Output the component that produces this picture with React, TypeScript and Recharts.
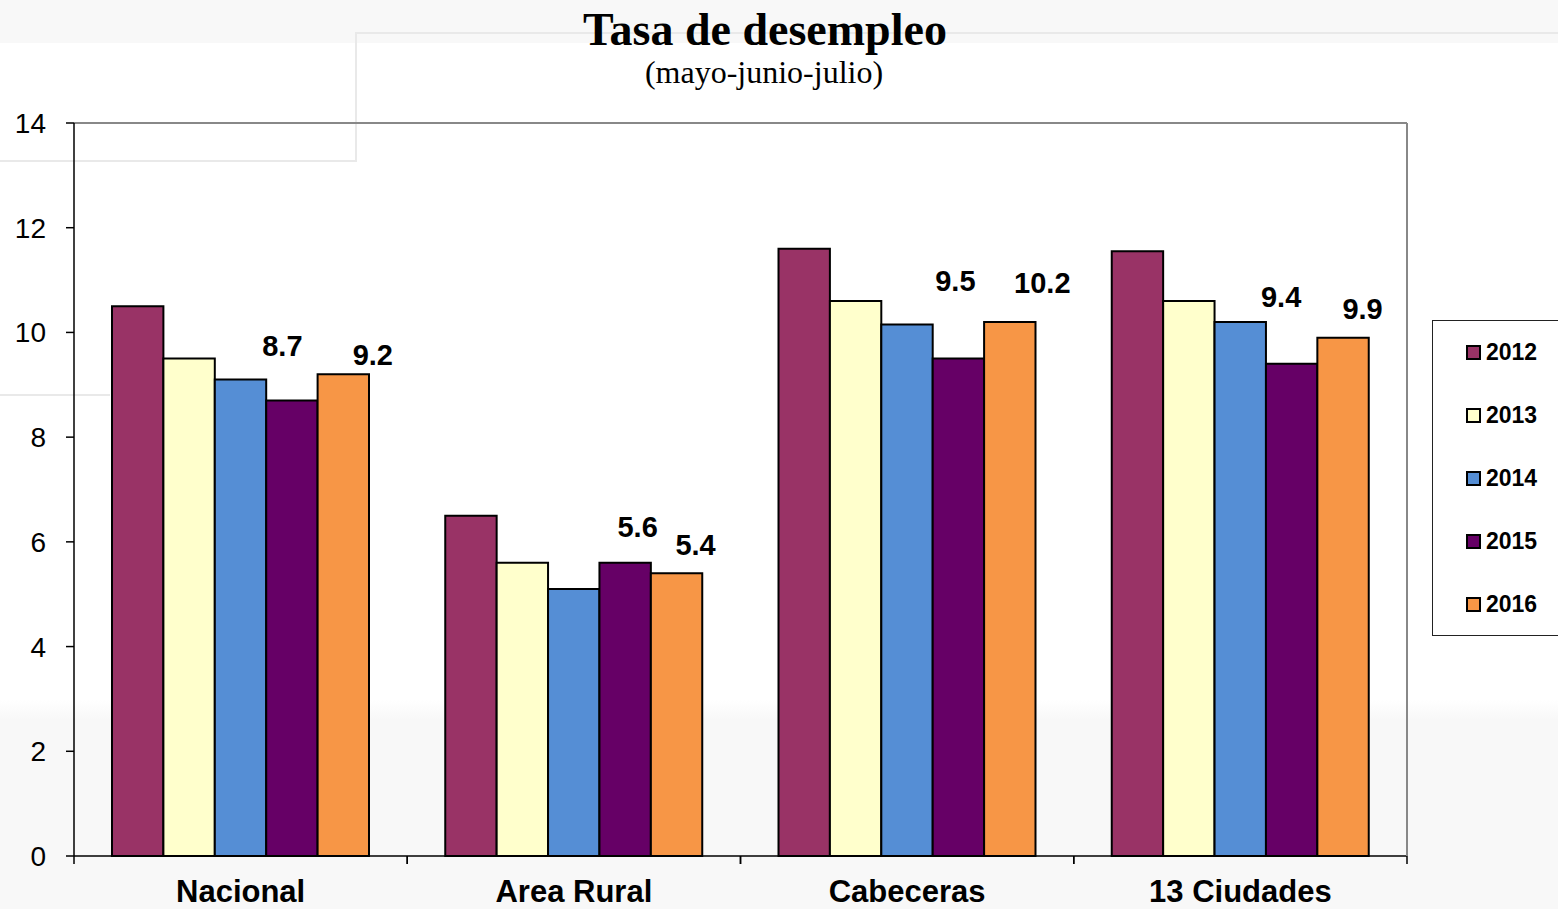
import React from 'react';
import { BarChart, Bar, XAxis, YAxis, ReferenceLine, LabelList } from 'recharts';

const categories = ['Nacional', 'Area Rural', 'Cabeceras', '13 Ciudades'];
const years = ['2012', '2013', '2014', '2015', '2016'];
const v2012 = [10.5, 6.5, 11.6, 11.55];
const v2013 = [9.5, 5.6, 10.6, 10.6];
const v2014 = [9.1, 5.1, 10.15, 10.2];
const v2015 = [8.7, 5.6, 9.5, 9.4];
const v2016 = [9.2, 5.4, 10.2, 9.9];
const yTicks = [0, 2, 4, 6, 8, 10, 12, 14];

const colors = ['#993366', '#FFFFCC', '#558ED5', '#660066', '#F79646'];
const seriesValues = [v2012, v2013, v2014, v2015, v2016];

// label layout nudges (pixels): [dx from bar centre, gap above bar top]
const labelNudge2015 = [[-9.5, 44], [12.5, 26], [-3, 68], [-10.5, 57]];
const labelNudge2016 = [[29.5, 9], [19, 18], [32.5, 29], [19.5, 19]];

const rows = categories.map((c, i) => {
  const r: any = { category: c };
  years.forEach((y, k) => {
    r['y' + y] = seriesValues[k][i];
  });
  return r;
});

const SANS = '"Liberation Sans", Arial, sans-serif';
const SERIF = '"Liberation Serif", "Times New Roman", serif';

const makeLabel = (nudges: number[][]) => (props: any) => {
  const { x, y, width, value, index } = props;
  const [dx, gap] = nudges[index] || [0, 10];
  return (
    <text
      x={Number(x) + Number(width) / 2 + dx}
      y={Number(y) - gap}
      textAnchor="middle"
      fontFamily={SANS}
      fontWeight="bold"
      fontSize={29}
      fill="#000"
    >
      {Number(value).toFixed(1)}
    </text>
  );
};

const TICK_SIZE = 8;
const TICK_MARGIN = 16;

const XTick = (props: any) => {
  const { x, y, payload } = props;
  const axisY = Number(y) - TICK_SIZE - TICK_MARGIN;
  const half = payload && payload.offset ? payload.offset : 166.6;
  return (
    <g>
      <line x1={x - half} x2={x - half} y1={axisY} y2={axisY + TICK_SIZE} stroke="#000" strokeWidth={1.5} />
      <line x1={x + half} x2={x + half} y1={axisY} y2={axisY + TICK_SIZE} stroke="#000" strokeWidth={1.5} />
      <text
        x={x}
        y={y}
        dy="0.71em"
        textAnchor="middle"
        fontFamily={SANS}
        fontWeight="bold"
        fontSize={31}
        fill="#000"
      >
        {payload.value}
      </text>
    </g>
  );
};

const bgLine = (style: React.CSSProperties) => (
  <div style={{ position: 'absolute', background: '#e9e9e9', ...style }} />
);

export default function App() {
  return (
    <div
      style={{
        position: 'absolute',
        left: 0,
        top: 0,
        width: 1558,
        height: 909,
        overflow: 'hidden',
        background:
          'linear-gradient(#f8f8f8 0px, #f8f8f8 43px, #ffffff 43px, #ffffff 700px, #f8f8f8 720px, #f8f8f8 909px)',
      }}
    >
      {bgLine({ left: 356, top: 32, width: 1202, height: 2 })}
      {bgLine({ left: 355, top: 32, width: 2, height: 130 })}
      {bgLine({ left: 0, top: 160, width: 357, height: 2 })}
      {bgLine({ left: 0, top: 394, width: 110, height: 2 })}

      <div
        style={{
          position: 'absolute',
          left: 0,
          width: 1530,
          top: 5,
          textAlign: 'center',
          fontFamily: SERIF,
          fontWeight: 'bold',
          fontSize: 46,
          lineHeight: '50px',
          color: '#000',
        }}
      >
        Tasa de desempleo
      </div>
      <div
        style={{
          position: 'absolute',
          left: 0,
          width: 1528,
          top: 54,
          textAlign: 'center',
          fontFamily: SERIF,
          fontSize: 32,
          lineHeight: '36px',
          color: '#000',
        }}
      >
        (mayo-junio-julio)
      </div>

      <div style={{ position: 'absolute', left: 0, top: 0 }}>
        <BarChart
          width={1558}
          height={909}
          data={rows}
          margin={{ top: 123, right: 150, bottom: 0, left: 0 }}
          barSize={51.4}
          barGap={0}
        >
          <XAxis
            dataKey="category"
            height={53}
            tickSize={TICK_SIZE}
            tickMargin={TICK_MARGIN}
            tickLine={false}
            axisLine={{ stroke: '#000', strokeWidth: 1.5 }}
            tick={<XTick />}
            interval={0}
          />
          <YAxis
            yAxisId="l"
            domain={[0, 14]}
            ticks={yTicks}
            width={74}
            tickSize={8}
            tickMargin={20}
            axisLine={{ stroke: '#000', strokeWidth: 1.5 }}
            tickLine={{ stroke: '#000', strokeWidth: 1.5 }}
            tick={{ fontFamily: SANS, fontSize: 28, fill: '#000' }}
            interval={0}
          />
          <YAxis
            yAxisId="r"
            orientation="right"
            domain={[0, 14]}
            width={1}
            tick={false}
            tickLine={false}
            axisLine={{ stroke: '#888', strokeWidth: 2 }}
          />
          <ReferenceLine yAxisId="l" y={14} stroke="#888" strokeWidth={2} ifOverflow="visible" />
          {years.map((yr, k) => (
            <Bar
              key={yr}
              yAxisId="l"
              dataKey={'y' + yr}
              name={yr}
              fill={colors[k]}
              stroke="#000"
              strokeWidth={2}
              isAnimationActive={false}
            >
              {yr === '2015' && <LabelList dataKey={'y' + yr} content={makeLabel(labelNudge2015)} />}
              {yr === '2016' && <LabelList dataKey={'y' + yr} content={makeLabel(labelNudge2016)} />}
            </Bar>
          ))}
        </BarChart>
      </div>

      <div
        style={{
          position: 'absolute',
          left: 1432,
          top: 320,
          width: 140,
          height: 314,
          border: '1px solid #222',
          background: '#fff',
        }}
      >
        {years.map((yr, k) => (
          <div
            key={yr}
            style={{
              position: 'absolute',
              left: 33,
              top: 31 + k * 63 - 14,
              height: 28,
              display: 'flex',
              alignItems: 'center',
            }}
          >
            <div
              style={{
                width: 11,
                height: 11,
                background: colors[k],
                border: '2px solid #000',
                marginRight: 5,
              }}
            />
            <span style={{ fontFamily: SANS, fontWeight: 'bold', fontSize: 23, color: '#000' }}>{yr}</span>
          </div>
        ))}
      </div>
    </div>
  );
}
